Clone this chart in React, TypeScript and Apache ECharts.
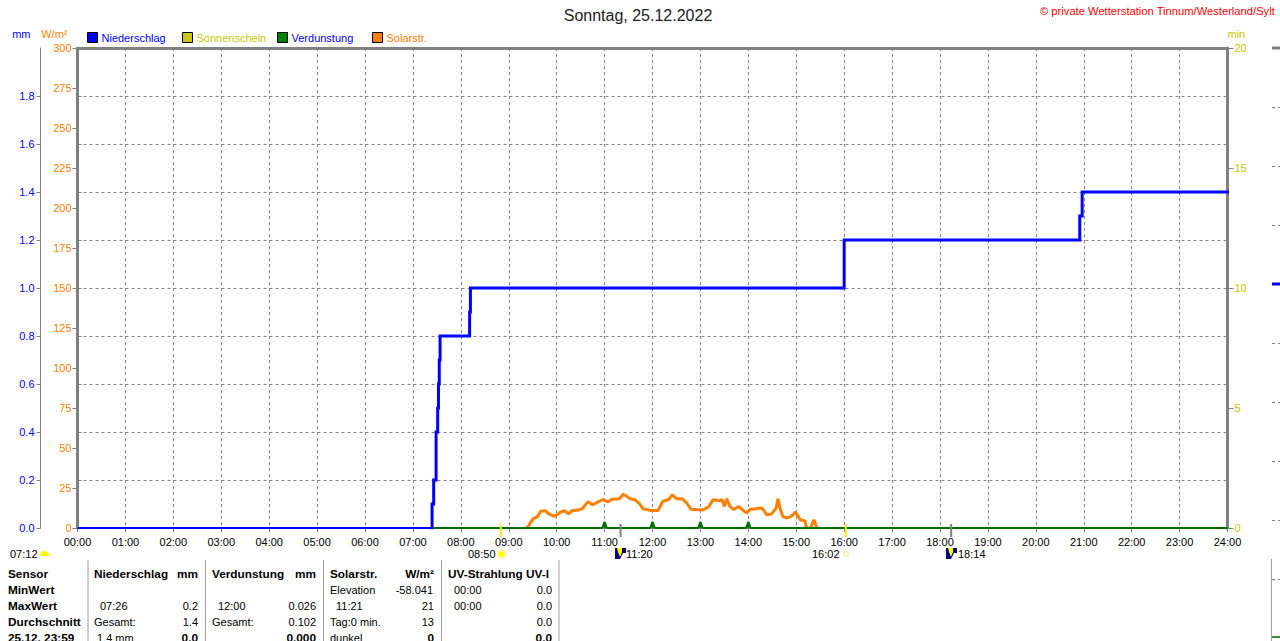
import React, { useEffect, useRef } from "react";
import * as echarts from "echarts";

const FONT = '"Liberation Sans", Arial, sans-serif';
const titleText = "Sonntag, 25.12.2022";
const creditText = "© private Wetterstation Tinnum/Westerland/Sylt";

// [minute of day, accumulated mm]: the dry start, then the rising part
const precipitationDry: [number, number][] = [[0, 0], [444, 0]];
const precipitation: [number, number][] = [
  [444, 0], [444, 0.1], [446, 0.1], [446, 0.2], [449, 0.2], [449, 0.4],
  [451, 0.4], [451, 0.5], [452, 0.5], [452, 0.6], [453, 0.6], [453, 0.7], [454, 0.7],
  [454, 0.8], [491, 0.8], [491, 0.9], [492, 0.9], [492, 1.0], [960, 1.0], [960, 1.2],
  [1255, 1.2], [1255, 1.3], [1258, 1.3], [1258, 1.4], [1440, 1.4],
];
// [minute of day, mm]
const evaporation: [number, number][] = [
  [445, 0], [657, 0], [660, 0.026], [663, 0], [717, 0], [720, 0.026], [723, 0],
  [777, 0], [780, 0.026], [783, 0], [837, 0], [840, 0.026], [843, 0], [1440, 0],
];
// [minute of day, W/m²]
const solar: [number, number][] = [
  [561, 0], [563, 0], [567, 3], [571, 6], [576, 7], [580, 10.4], [586, 10.8], [590, 8.8], [597, 7.3],
  [602, 8.8], [605, 10], [610, 10.8], [615, 8.8], [619, 10.8], [627, 11.2], [632, 12],
  [639, 16.3], [645, 14.6], [652, 16.3], [658, 17.7], [664, 16.3], [669, 17.9], [679, 18.3],
  [683, 21], [686, 20.4], [692, 18.3], [698, 17.7], [704, 15], [708, 12], [717, 11], [727, 11],
  [733, 16.7], [740, 17.7], [745, 20.8], [750, 18.3], [757, 18.3], [763, 15.6], [768, 11.7],
  [782, 11.2], [790, 13], [796, 17.7], [804, 17], [807, 17.7], [810, 13.5], [813, 18.3],
  [817, 13.5], [822, 11.5], [828, 13.5], [834, 10.8], [838, 9.4], [842, 11.5], [857, 12.5],
  [863, 8.3], [869, 8.8], [875, 12.5], [877, 18.3], [880, 12], [883, 7.3], [888, 6.3],
  [894, 7.3], [899, 10], [905, 5.2], [911, 4.4], [913, 0], [918, 0], [922, 5.2], [926, 0],
];
const sunshine: [number, number][] = [];

// [minute of day, colour of the marker]
const eventTicks: [number, number, string][] = [
  [530, 0, "#f4f000"], [962, 0, "#f4f000"], [680, 0, "#808080"], [1094, 0, "#808080"],
];

const legendNames = ["Niederschlag", "Sonnenschein", "Verdunstung", "Solarstr."];
const legendFills = ["#0000ff", "#c8c800", "#008000", "#ff8000"];
const legendTexts = ["#0000ff", "#c8c800", "#0000ff", "#ff8000"];
const legendLefts = [87, 182, 277, 372];

const mmLabelValues = [0, 0.2, 0.4, 0.6, 0.8, 1.0, 1.2, 1.4, 1.6, 1.8];

// Table: [text, x, bold, align]
type Cell = [string, number, boolean, "left" | "right"];
const tableRows: Cell[][] = [
  [["Sensor", 8, true, "left"], ["Niederschlag", 94, true, "left"], ["mm", 198, true, "right"],
   ["Verdunstung", 212, true, "left"], ["mm", 316, true, "right"], ["Solarstr.", 330, true, "left"],
   ["W/m²", 434, true, "right"], ["UV-Strahlung UV-I", 448, true, "left"]],
  [["MinWert", 8, true, "left"], ["Elevation", 330, false, "left"], ["-58.041", 433, false, "right"],
   ["00:00", 454, false, "left"], ["0.0", 552, false, "right"]],
  [["MaxWert", 8, true, "left"], ["07:26", 100, false, "left"], ["0.2", 198, false, "right"],
   ["12:00", 218, false, "left"], ["0.026", 316, false, "right"], ["11:21", 336, false, "left"],
   ["21", 434, false, "right"], ["00:00", 454, false, "left"], ["0.0", 552, false, "right"]],
  [["Durchschnitt", 8, true, "left"], ["Gesamt:", 94, false, "left"], ["1.4", 198, false, "right"],
   ["Gesamt:", 212, false, "left"], ["0.102", 316, false, "right"], ["Tag:0 min.", 330, false, "left"],
   ["13", 434, false, "right"], ["0.0", 552, false, "right"]],
  [["25.12. 23:59", 8, true, "left"], ["1.4 mm", 97, false, "left"], ["0.0", 198, true, "right"],
   ["0.000", 316, true, "right"], ["dunkel", 330, false, "left"], ["0", 434, true, "right"],
   ["0.0", 552, true, "right"]],
];
const tableRowY = [574, 590, 606, 622, 638];
const tableSeparators = [88, 205.5, 323.5, 441.5, 559];

const stripDashes = [107, 166, 225, 343, 402, 461, 520];

const fmtTime = (v: number) => `${String(Math.round(v / 60)).padStart(2, "0")}:00`;

function txt(text: string, x: number, y: number, opts: any = {}) {
  return {
    type: "text", x, y, silent: true,
    style: {
      text, fill: opts.fill || "#000", font: `${opts.bold ? "bold " : ""}${opts.size || 11}px ${FONT}`,
      textAlign: opts.align || "left", textVerticalAlign: "middle",
    },
  };
}

function moonIcon(x: number) {
  return [
    { type: "rect", shape: { x, y: 548, width: 11, height: 11 }, style: { fill: "#000080" }, silent: true },
    { type: "polygon", shape: { points: [[x + 5, 559], [x + 11, 559], [x + 11, 553], [x + 8, 553]] }, style: { fill: "#ffffff" }, silent: true },
    { type: "polygon", shape: { points: [[x + 2, 548], [x + 7, 548], [x + 7, 552], [x + 5, 557], [x + 3, 552]] }, style: { fill: "#ffff00" }, silent: true },
  ];
}

function buildGraphics() {
  const g: any[] = [];
  // sunrise / sunset annotations
  g.push(txt("07:12", 10, 554));
  g.push({ type: "sector", shape: { cx: 44.5, cy: 556, r: 5, r0: 0, startAngle: Math.PI, endAngle: 0, clockwise: true }, style: { fill: "#ffff00" }, silent: true });
  g.push(txt("08:50", 468, 554));
  g.push({ type: "circle", shape: { cx: 501.5, cy: 554, r: 5 }, style: { fill: "#fff8b0" }, silent: true });
  g.push({ type: "circle", shape: { cx: 501.5, cy: 554, r: 3 }, style: { fill: "#ffff00" }, silent: true });
  g.push(txt("16:02", 812, 554));
  g.push({ type: "rect", shape: { x: 844, y: 552, width: 4, height: 4 }, style: { fill: "#fff", stroke: "#f8f080", lineWidth: 1 }, silent: true });
  g.push(...moonIcon(615));
  g.push(txt("11:20", 626, 554));
  g.push(...moonIcon(946));
  g.push(txt("18:14", 958, 554));

  // table
  tableSeparators.forEach((x) => {
    g.push({ type: "line", shape: { x1: x, y1: 560, x2: x, y2: 641 }, style: { stroke: "#a0a0a0", lineWidth: 1 }, silent: true });
  });
  tableRows.forEach((row, i) => {
    row.forEach(([t, x, bold, align]) => {
      g.push(txt(t, x, tableRowY[i], { bold, align, size: bold ? 11.8 : 11 }));
    });
  });

  // neighbouring chart cut off by the right edge of the page
  g.push({ type: "line", shape: { x1: 1272, y1: 48, x2: 1280, y2: 48 }, style: { stroke: "#808080", lineWidth: 3 }, silent: true });
  stripDashes.forEach((y) => {
    g.push({ type: "line", shape: { x1: 1272, y1: y + 0.5, x2: 1280, y2: y + 0.5 }, style: { stroke: "#808080", lineWidth: 1, lineDash: [3, 3] }, silent: true });
  });
  g.push({ type: "line", shape: { x1: 1272, y1: 284, x2: 1280, y2: 284 }, style: { stroke: "#0000ff", lineWidth: 3 }, silent: true });
  g.push({ type: "line", shape: { x1: 1271.5, y1: 559, x2: 1271.5, y2: 641 }, style: { stroke: "#a0a0a0", lineWidth: 1 }, silent: true });
  g.push({ type: "line", shape: { x1: 1272, y1: 579.5, x2: 1280, y2: 579.5 }, style: { stroke: "#808080", lineWidth: 1, lineDash: [3, 3] }, silent: true });
  g.push({ type: "line", shape: { x1: 1272, y1: 637, x2: 1280, y2: 637 }, style: { stroke: "#006000", lineWidth: 1.5 }, silent: true });
  return g;
}

export default function App() {
  const ref = useRef<HTMLDivElement>(null);
  useEffect(() => {
    const chart = echarts.init(ref.current!, undefined, { renderer: "svg" });
    const hidden = { axisLine: { show: false }, axisTick: { show: false }, axisLabel: { show: false }, splitLine: { show: false } };
    chart.setOption({
      animation: false,
      backgroundColor: "#ffffff",
      textStyle: { fontFamily: FONT },
      title: [
        { text: titleText, left: 633, top: 2, textAlign: "center", textStyle: { fontFamily: FONT, fontSize: 16, fontWeight: "normal", color: "#222" } },
        { text: creditText, left: 1035, top: 0, textStyle: { fontFamily: FONT, fontSize: 11.2, fontWeight: "normal", color: "#ff0000" } },
      ],
      legend: legendNames.map((name, i) => ({
        left: legendLefts[i], top: 32, padding: 0, itemWidth: 10, itemHeight: 10, selectedMode: false,
        data: [{
          name, icon: "rect",
          itemStyle: { color: legendFills[i], borderColor: "#000", borderWidth: 1 },
          lineStyle: { opacity: 0 },
          textStyle: { color: legendTexts[i], fontFamily: FONT, fontSize: 11, padding: [1, 0, 0, -1] },
        }],
      })),
      grid: { left: 77.5, right: 52.5, top: 48, height: 480, containLabel: false },
      xAxis: [
        {
          type: "value", min: 0, max: 1440, interval: 60,
          axisLine: { show: true, onZero: false, lineStyle: { color: "#808080", width: 1 } },
          axisTick: { show: true, length: 4, lineStyle: { color: "#808080" } },
          axisLabel: { formatter: fmtTime, color: "#000", fontSize: 11, fontFamily: FONT, margin: 8, showMinLabel: true, showMaxLabel: true, hideOverlap: false },
          splitLine: { show: true, showMinLine: false, showMaxLine: false, lineStyle: { color: "#808080", type: [3, 3], width: 1 } },
        },
        {
          type: "value", position: "top", min: 0, max: 1440, interval: 60,
          axisLine: { show: true, onZero: false, lineStyle: { color: "#808080", width: 3 } },
          axisTick: { show: false }, axisLabel: { show: false }, splitLine: { show: false },
        },
      ],
      yAxis: [
        {
          type: "value", position: "left", min: 0, max: 300, interval: 25,
          name: "W/m²", nameLocation: "end", nameGap: 9,
          nameTextStyle: { color: "#ff8000", fontFamily: FONT, fontSize: 11, align: "right", padding: [0, 10, 0, 0] },
          axisLine: { show: true, onZero: false, lineStyle: { color: "#808080", width: 3 } },
          axisTick: { show: true, length: 5, lineStyle: { color: "#808080" } },
          axisLabel: { color: "#ff8000", fontSize: 11, fontFamily: FONT, margin: 6, showMinLabel: true, showMaxLabel: true, hideOverlap: false },
          splitLine: { show: false },
        },
        {
          type: "value", position: "left", offset: 37, min: 0, max: 2, interval: 0.2,
          name: "mm", nameLocation: "end", nameGap: 9,
          nameTextStyle: { color: "#0000ff", fontFamily: FONT, fontSize: 11, align: "right", padding: [0, 10, 0, 0] },
          axisLine: { show: true, onZero: false, lineStyle: { color: "#808080", width: 1 } },
          axisTick: { show: true, length: 4, customValues: mmLabelValues, lineStyle: { color: "#808080" } },
          axisLabel: { color: "#0000ff", fontSize: 11, fontFamily: FONT, margin: 6, customValues: mmLabelValues, formatter: (v: number) => v.toFixed(1), hideOverlap: false },
          splitLine: { show: false },
        },
        {
          type: "value", position: "left", offset: 37, min: 0, max: 2, interval: 0.2,
          axisLine: { show: false },
          axisTick: { show: true, inside: true, length: 4, customValues: mmLabelValues, lineStyle: { color: "#808080" } },
          axisLabel: { show: false }, splitLine: { show: false },
        },
        {
          type: "value", position: "left", min: 0, max: 2, interval: 0.2, ...hidden,
          splitLine: { show: true, showMinLine: false, showMaxLine: false, lineStyle: { color: "#808080", type: [3, 3], width: 1 } },
        },
        {
          type: "value", position: "right", min: 0, max: 20, interval: 5,
          name: "min", nameLocation: "end", nameGap: 9,
          nameTextStyle: { color: "#c8c800", fontFamily: FONT, fontSize: 11, align: "left" },
          axisLine: { show: true, onZero: false, lineStyle: { color: "#808080", width: 3 } },
          axisTick: { show: true, length: 6, lineStyle: { color: "#808080" } },
          axisLabel: { color: "#c8c800", fontSize: 11, fontFamily: FONT, margin: 7, showMinLabel: true, showMaxLabel: true, hideOverlap: false },
          splitLine: { show: false },
        },
      ],
      series: [
        { name: "Niederschlag", type: "line", xAxisIndex: 0, yAxisIndex: 1, data: precipitation, showSymbol: false, lineStyle: { color: "#0000ff", width: 3, cap: "square", join: "miter" }, itemStyle: { color: "#0000ff" }, z: 3 },
        { name: "Niederschlag", type: "line", xAxisIndex: 0, yAxisIndex: 1, data: precipitationDry, showSymbol: false, lineStyle: { color: "#0000ff", width: 2 }, itemStyle: { color: "#0000ff" }, z: 3 },
        { name: "Sonnenschein", type: "line", xAxisIndex: 0, yAxisIndex: 4, data: sunshine, showSymbol: false, lineStyle: { color: "#c8c800" }, itemStyle: { color: "#c8c800" } },
        { name: "Solarstr.", type: "line", xAxisIndex: 0, yAxisIndex: 0, data: solar, showSymbol: false, lineStyle: { color: "#ff8000", width: 3 }, itemStyle: { color: "#ff8000" }, z: 4 },
        { name: "Verdunstung", type: "line", xAxisIndex: 0, yAxisIndex: 1, data: evaporation, showSymbol: false, lineStyle: { color: "#006f00", width: 2 }, itemStyle: { color: "#008000" }, areaStyle: { color: "#008000", opacity: 1 }, z: 5 },
        {
          name: "Ereignisse", type: "custom", xAxisIndex: 0, yAxisIndex: 0, data: eventTicks, clip: false, z: 6,
          encode: { x: 0, y: 1 },
          renderItem: (_p: any, api: any) => {
            const [x, y] = api.coord([api.value(0), api.value(1)]);
            const color = eventTicks[_p.dataIndex][2];
            return { type: "rect", shape: { x: x - 1, y: y - 4, width: 2, height: 13 }, style: { fill: color } };
          },
        },
      ],
      graphic: { elements: buildGraphics() },
    });
    return () => chart.dispose();
  }, []);
  return <div ref={ref} style={{ position: "fixed", left: 0, top: 0, width: 1280, height: 641, overflow: "hidden" }} />;
}
